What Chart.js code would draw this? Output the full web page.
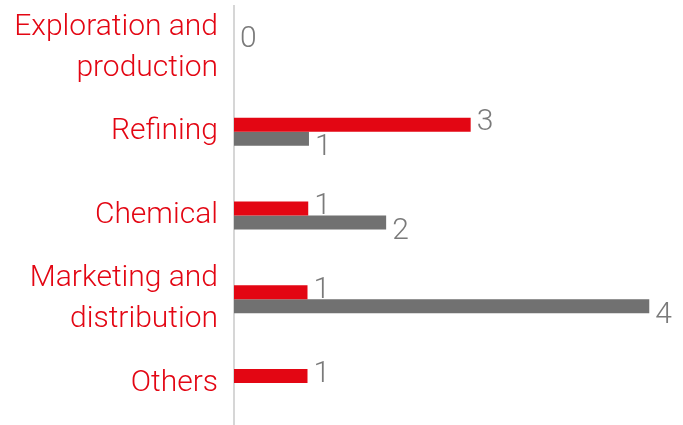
<!DOCTYPE html>
<html>
<head>
<meta charset="utf-8">
<script src="https://cdn.jsdelivr.net/npm/chart.js@4/dist/chart.umd.min.js"></script>
<style>
  html, body { margin: 0; padding: 0; background: #fff; }
  #wrap { width: 683px; height: 425px; }
</style>
</head>
<body>
<div id="wrap"><canvas id="segChart"></canvas></div>
<script>
const categories = [
    ['Exploration and', 'production'],
    'Refining',
    'Chemical',
    ['Marketing and', 'distribution'],
    'Others'
];
// bar lengths as drawn in the picture
const redValues = [0, 3.22, 1.01, 1.0, 1.0];
const greyValues = [null, 1.02, 2.07, 5.65, null];
// numbers printed next to the bars
const redLabels = ['0', '3', '1', '1', '1'];
const greyLabels = [null, '1', '2', '4', null];

const RED = '#e30613';
const GREY = '#717171';
const LABEL_GREY = '#7a7a7a';
const FONT = 'Roboto';

const valueLabels = {
    id: 'valueLabels',
    afterDatasetsDraw(chart) {
        const ctx = chart.ctx;
        ctx.save();
        ctx.font = '300 30px ' + FONT;
        ctx.fillStyle = LABEL_GREY;
        ctx.textAlign = 'left';
        ctx.textBaseline = 'alphabetic';
        const sets = [[redLabels, -5], [greyLabels, 6]];
        sets.forEach(([labels, dy], i) => {
            const meta = chart.getDatasetMeta(i);
            meta.data.forEach((bar, j) => {
                if (labels[j] == null) return;
                ctx.fillText(labels[j], bar.x + 6, bar.y + dy + 10.7);
            });
        });
        ctx.restore();
    }
};

new Chart(document.getElementById('segChart'), {
    type: 'bar',
    data: {
        labels: categories,
        datasets: [
            { data: redValues, backgroundColor: RED, barThickness: 14, inflateAmount: 0 },
            { data: greyValues, backgroundColor: GREY, barThickness: 14, inflateAmount: 0 }
        ]
    },
    options: {
        indexAxis: 'y',
        responsive: true,
        maintainAspectRatio: false,
        animation: false,
        layout: { padding: { top: 6, right: 8, bottom: 0, left: 0 } },
        plugins: {
            legend: { display: false },
            tooltip: { enabled: false }
        },
        scales: {
            x: {
                display: false,
                min: 0,
                max: 6
            },
            y: {
                grid: { display: false, drawTicks: false },
                border: { display: true, color: '#d6d6d6', width: 2 },
                ticks: {
                    color: RED,
                    padding: 16,
                    autoSkip: false,
                    font: { family: FONT, size: 30, weight: 300, lineHeight: 1.37 }
                },
                afterFit: (scale) => {
                    scale.width = 234;
                    scale.paddingTop = 0;
                    scale.paddingBottom = 0;
                }
            }
        }
    },
    plugins: [valueLabels]
});
</script>
</body>
</html>
